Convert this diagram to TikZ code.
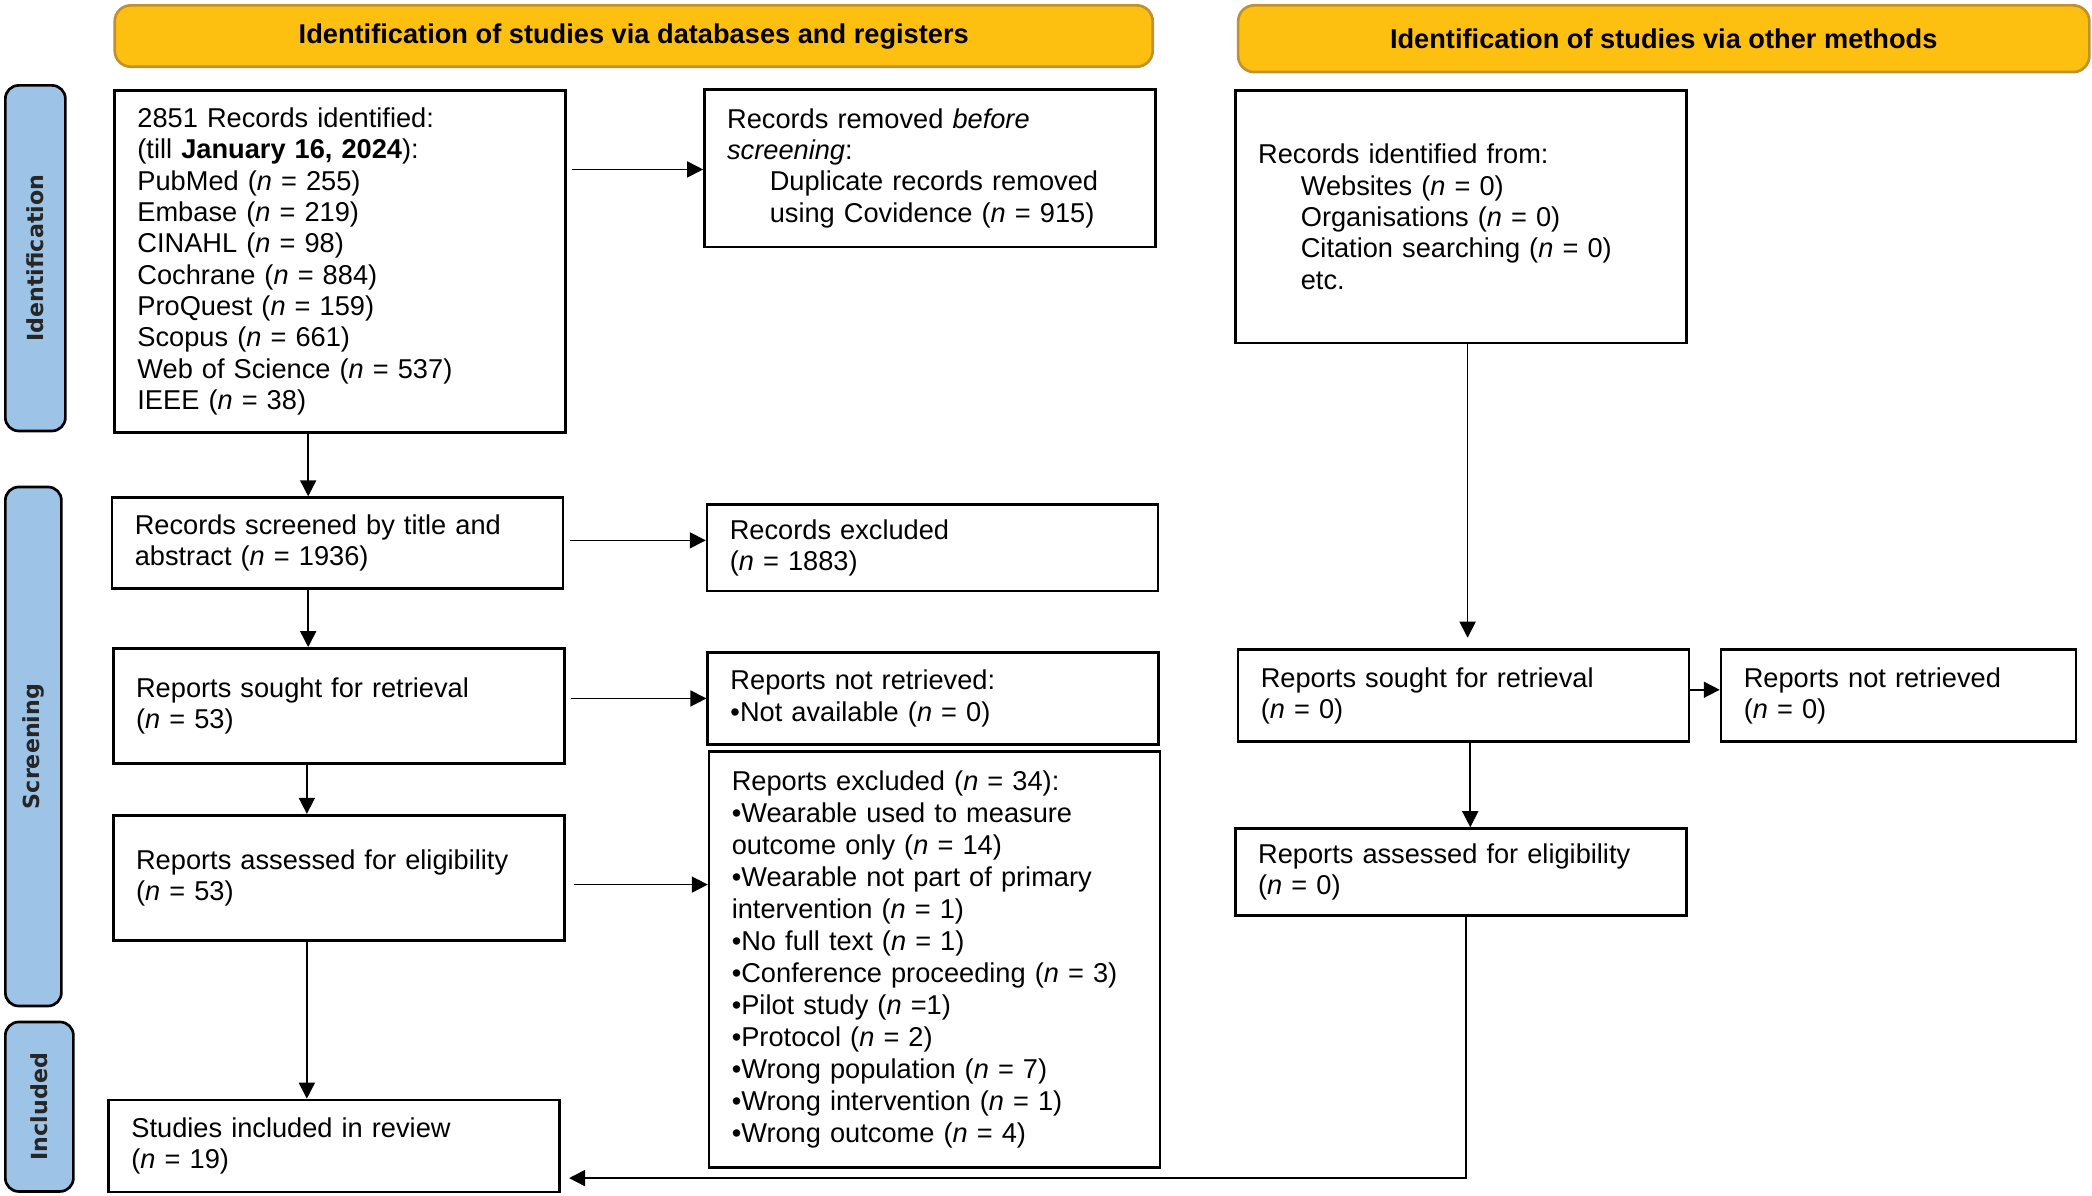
\documentclass[tikz,border=0pt]{standalone}
\usepackage{fontspec}
\setmainfont{Liberation Sans}
\newfontfamily\lblfont{DejaVu Sans}
\usetikzlibrary{arrows.meta}
\definecolor{bannerfill}{HTML}{FDC010}
\definecolor{bannerdraw}{HTML}{BF9130}
\definecolor{labelfill}{HTML}{9DC3E6}
\newcommand\itn{\textit{n}}
\begin{document}
\begin{tikzpicture}[x=0.5pt,y=-0.5pt,
  box/.style={draw, line width=1pt, inner xsep=8.5pt, inner ysep=2pt, align=left,
    text width=152pt, font=\fontsize{10.2pt}{11.75pt}\selectfont},
  banner/.style={draw=bannerdraw, fill=bannerfill, line width=1pt, rounded corners=6pt,
    font=\bfseries\fontsize{10.2pt}{12pt}\selectfont},
  phase/.style={draw=black, fill=labelfill, line width=1pt, rounded corners=5pt, rotate=90,
    text=black!85, font=\lblfont\bfseries\fontsize{8.3pt}{10pt}\selectfont},
  arr/.style={-{Triangle[length=6pt,width=6pt]}, line width=0.6pt}]
\useasboundingbox (0,0) rectangle (1568,896);

% banners
\node[banner, minimum width=389pt, minimum height=23pt] (ban1) at (475,27)
  {\raisebox{-1.5pt}{Identification of studies via databases and registers}};
\node[banner, minimum width=319pt, minimum height=25pt] (ban2) at (1247,29)
  {\raisebox{-1pt}{Identification of studies via other methods}};

% phase labels
\node[phase, minimum width=129.5pt, minimum height=22.5pt] (ph1) at (26.5,193.5) {Identification};
\node[phase, minimum width=194.5pt, minimum height=21pt] (ph2) at (25,559.5) {Screening};
\node[phase, minimum width=63.5pt, minimum height=25.5pt] (ph3) at (29.5,829.5) {Included};

% left column
\node[box, minimum height=128pt] (A) at (255,196)
  {2851 Records identified:\\(till \textbf{January 16, 2024}):\\PubMed (\itn{} = 255)\\Embase (\itn{} = 219)\\CINAHL (\itn{} = 98)\\Cochrane (\itn{} = 884)\\ProQuest (\itn{} = 159)\\Scopus (\itn{} = 661)\\Web of Science (\itn{} = 537)\\IEEE (\itn{} = 38)};
\node[box, minimum height=59pt] (B) at (697,126)
  {Records removed \textit{before}\\\textit{screening}:\\\hspace*{16pt}Duplicate records removed\\\hspace*{16pt}using Covidence (\itn{} = 915)};
\node[box, minimum height=34pt] (D) at (253,407)
  {Records screened by title and\\abstract (\itn{} = 1936)};
\node[box, minimum height=32.5pt] (E) at (699,410.5)
  {Records excluded\\(\itn{} = 1883)};
\node[box, minimum height=43pt] (F) at (254,529)
  {Reports sought for retrieval\\(\itn{} = 53)};
\node[box, minimum height=34.5pt] (G) at (699.5,523.5)
  {Reports not retrieved:\\•Not available (\itn{} = 0)};
\node[box, minimum height=47pt] (H) at (254,658)
  {Reports assessed for eligibility\\(\itn{} = 53)};
\node[box, minimum height=156pt, font=\fontsize{10.2pt}{12pt}\selectfont] (I) at (700.5,719)
  {Reports excluded (\itn{} = 34):\\•Wearable used to measure\\outcome only (\itn{} = 14)\\•Wearable not part of primary\\intervention (\itn{} = 1)\\•No full text (\itn{} = 1)\\•Conference proceeding (\itn{} = 3)\\•Pilot study (\itn{} =1)\\•Protocol (\itn{} = 2)\\•Wrong population (\itn{} = 7)\\•Wrong intervention (\itn{} = 1)\\•Wrong outcome (\itn{} = 4)};
\node[box, minimum height=34.5pt] (J) at (250.5,859)
  {Studies included in review\\(\itn{} = 19)};

% right column
\node[box, minimum height=94.5pt] (C) at (1095,162.5)
  {Records identified from:\\\hspace*{16pt}Websites (\itn{} = 0)\\\hspace*{16pt}Organisations (\itn{} = 0)\\\hspace*{16pt}Citation searching (\itn{} = 0)\\\hspace*{16pt}etc.};
\node[box, minimum height=34.5pt] (K) at (1097,521.5)
  {Reports sought for retrieval\\(\itn{} = 0)};
\node[box, minimum height=34.5pt, text width=116pt] (L) at (1423,521.5)
  {Reports not retrieved\\(\itn{} = 0)};
\node[box, minimum height=32.5pt] (M) at (1095,653.5)
  {Reports assessed for eligibility\\(\itn{} = 0)};

% connectors
\draw[arr, shorten <=2pt] ([yshift=-0.5pt]A.east |- B.west) -- ([yshift=-0.5pt]B.west);
\draw[arr] ([xshift=-12pt]A.south) -- ([xshift=-12pt]A.south |- D.north);
\draw[arr, shorten <=2pt] ([yshift=1pt]D.east) -- ([yshift=1pt]D.east -| E.west);
\draw[arr] ([xshift=-11pt]D.south) -- ([xshift=-11pt]D.south |- F.north);
\draw[arr, shorten <=2pt] (F.east |- G.west) -- (G.west);
\draw[arr] ([xshift=-12pt]F.south) -- ([xshift=-12pt]F.south |- H.north);
\draw[arr, shorten <=3pt] ([yshift=-2.5pt]H.east) -- ([yshift=-2.5pt]H.east -| I.west);
\draw[arr] ([xshift=-12pt]H.south) -- ([xshift=-12pt]H.south |- J.north);
\draw[arr, shorten >=4pt] ([xshift=2.5pt]C.south) -- ([xshift=2.5pt]C.south |- K.north);
\draw[arr] ([yshift=2.25pt]K.east) -- ([yshift=2.25pt]K.east -| L.west);
\draw[arr] ([xshift=2.5pt]K.south) -- ([xshift=2.5pt]K.south |- M.north);
\draw[arr, shorten >=3pt] ([xshift=2pt]M.south) |- ([yshift=-12pt]J.east);
\end{tikzpicture}
\end{document}
